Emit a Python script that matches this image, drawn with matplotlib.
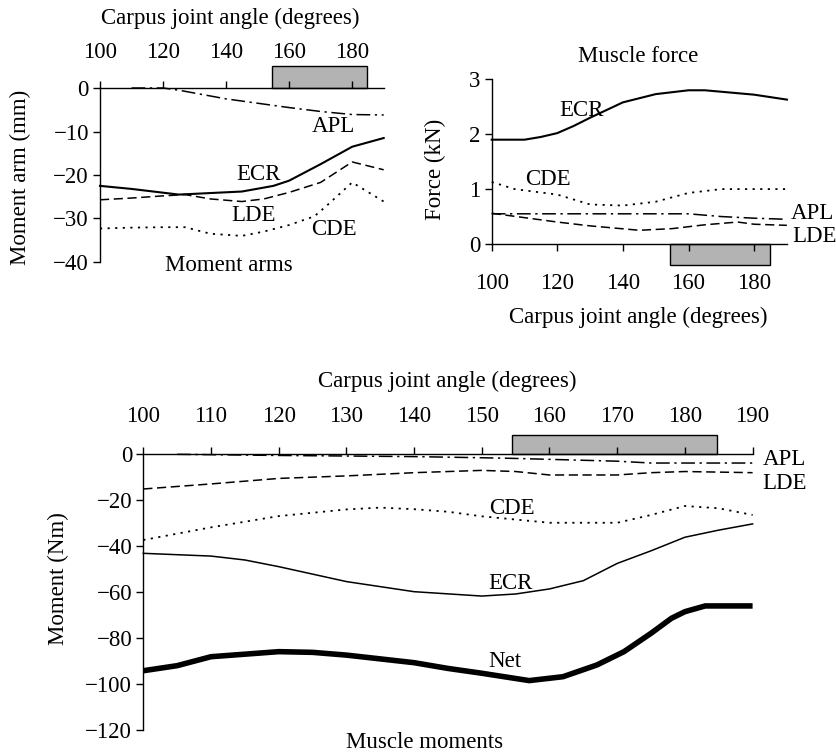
import matplotlib
matplotlib.use("Agg")
import matplotlib.pyplot as plt
from matplotlib.patches import Rectangle

plt.rcParams['font.family'] = ['Liberation Serif', 'DejaVu Serif']
plt.rcParams['axes.unicode_minus'] = True

FS = 16.5

# ---------------- data ----------------
# Moment arms (mm)
ma_apl_x = [110, 120, 125, 140, 150, 160, 170, 180, 190]
ma_apl_y = [0, 0, -0.5, -2.5, -3.5, -4.5, -5.4, -6.1, -6.2]
ma_ecr_x = [100, 110, 125, 145, 155, 160, 170, 180, 190]
ma_ecr_y = [-22.5, -23.2, -24.5, -23.8, -22.5, -21.3, -17.5, -13.5, -11.5]
ma_lde_x = [100, 110, 120, 127, 135, 145, 152, 160, 170, 180, 190]
ma_lde_y = [-25.7, -25.3, -24.8, -24.5, -25.5, -26.1, -25.5, -24, -21.7, -17, -18.8]
ma_cde_x = [100, 110, 120, 127, 135, 145, 152, 160, 168, 172, 180, 190]
ma_cde_y = [-32.3, -32.1, -32, -32, -33.5, -34, -33, -31.5, -29.5, -27, -21.7, -26.1]

# Muscle force (kN)
f_ecr_x = [100, 110, 115, 120, 125, 130, 140, 150, 160, 165, 180, 190]
f_ecr_y = [1.9, 1.9, 1.95, 2.02, 2.15, 2.3, 2.58, 2.73, 2.8, 2.8, 2.72, 2.63]
f_cde_x = [100, 107, 120, 130, 140, 150, 160, 170, 190]
f_cde_y = [1.13, 1.0, 0.9, 0.72, 0.7, 0.77, 0.93, 1.0, 1.0]
f_apl_x = [100, 110, 130, 160, 170, 180, 190]
f_apl_y = [0.55, 0.55, 0.55, 0.55, 0.5, 0.47, 0.45]
f_lde_x = [100, 110, 120, 130, 145, 155, 165, 175, 180, 190]
f_lde_y = [0.56, 0.48, 0.4, 0.33, 0.25, 0.28, 0.35, 0.4, 0.36, 0.34]

# Muscle moments (Nm)
m_apl_x = [105, 120, 140, 150, 155, 160, 170, 175, 180, 190]
m_apl_y = [0, -0.5, -1, -1.5, -1.8, -2.2, -3, -3.8, -3.8, -3.8]
m_lde_x = [100, 110, 120, 130, 140, 150, 155, 160, 170, 175, 180, 190]
m_lde_y = [-15.1, -12.9, -10.5, -9.4, -8, -7, -7.5, -9, -9, -8, -7.5, -8]
m_cde_x = [100, 110, 120, 130, 135, 140, 145, 150, 160, 170, 175, 180, 185, 190]
m_cde_y = [-37.3, -31.8, -26.9, -24, -23.2, -23.9, -25, -27, -29.8, -29.8, -26.4, -22.5, -23.5, -26.4]
m_ecr_x = [100, 110, 115, 120, 130, 140, 150, 155, 160, 165, 170, 175, 180, 185, 190]
m_ecr_y = [-43.1, -44.3, -46, -48.9, -55.4, -59.8, -61.7, -60.8, -58.6, -55, -47.5, -42, -36.1, -33, -30.3]
m_net_x = [100, 105, 110, 115, 120, 125, 130, 140, 145, 150, 157, 162, 167, 171, 175, 178, 180, 183, 190]
m_net_y = [-94.2, -92, -88.1, -87, -85.9, -86.2, -87.4, -90.7, -93.2, -95.3, -98.5, -96.8, -91.7, -85.9, -77.9, -71.4, -68.5, -66, -66]

# stance (shaded) range of joint angle
box_x = [154.5, 184.7]

x_ticks_top = [100, 120, 140, 160, 180]
x_ticks_bot = [100, 110, 120, 130, 140, 150, 160, 170, 180, 190]

W, H = 837, 756
fig = plt.figure(figsize=(W / 100, H / 100), dpi=100)

def ax_px(left, top, right, bottom):
    return fig.add_axes([left / W, 1 - bottom / H, (right - left) / W, (bottom - top) / H])

APL_LS = (0, (9, 3, 1.5, 3))
LDE_LS = (0, (6, 3))
CDE_LS = (0, (1.2, 3))

def style_common(ax):
    ax.tick_params(labelsize=FS, length=5, width=1, color='black')
    for s in ax.spines.values():
        s.set_linewidth(1)

# ---------------- top-left: moment arms ----------------
ax1 = ax_px(100, 88, 383.7, 262)
ax1.set_xlim(100, 190)
ax1.set_ylim(-40, 0)
ax1.spines['right'].set_visible(False)
ax1.spines['bottom'].set_visible(False)
ax1.xaxis.set_ticks_position('top')
ax1.set_xticks(x_ticks_top)
ax1.set_yticks([0, -10, -20, -30, -40])
style_common(ax1)
ax1.tick_params(axis='x', pad=13)
ax1.tick_params(axis='y', pad=3)
ax1.add_patch(Rectangle((box_x[0], 0), box_x[1] - box_x[0], 5, facecolor='#b3b3b3',
                        edgecolor='black', lw=1, clip_on=False, zorder=0.5))
ax1.plot(ma_apl_x, ma_apl_y, color='black', lw=1.1, ls=APL_LS, clip_on=False)
ax1.plot(ma_ecr_x, ma_ecr_y, color='black', lw=1.5, clip_on=False)
ax1.plot(ma_lde_x, ma_lde_y, color='black', lw=1.1, ls=LDE_LS, clip_on=False)
ax1.plot(ma_cde_x, ma_cde_y, color='black', lw=1.3, ls=CDE_LS, clip_on=False)
ax1.text(174, -8.9, 'APL', fontsize=FS, ha='center', va='center')
ax1.text(150.4, -20, 'ECR', fontsize=FS, ha='center', va='center')
ax1.text(148.8, -29.4, 'LDE', fontsize=FS, ha='center', va='center')
ax1.text(174.3, -32.6, 'CDE', fontsize=FS, ha='center', va='center')
ax1.text(141, -40.8, 'Moment arms', fontsize=FS, ha='center', va='center', clip_on=False)
fig.text(230 / W, 1 - 18 / H, 'Carpus joint angle (degrees)', fontsize=FS, ha='center', va='center')
fig.text(20 / W, 1 - 177 / H, 'Moment arm (mm)', fontsize=FS, ha='center', va='center', rotation=90)

# ---------------- top-right: muscle force ----------------
ax2 = ax_px(491.7, 79.3, 786.9, 244)
ax2.set_xlim(100, 190)
ax2.set_ylim(0, 3)
ax2.spines['right'].set_visible(False)
ax2.spines['top'].set_visible(False)
ax2.set_xticks(x_ticks_top)
ax2.set_yticks([0, 1, 2, 3])
style_common(ax2)
ax2.tick_params(axis='x', pad=16)
ax2.tick_params(axis='y', pad=3)
ax2.add_patch(Rectangle((box_x[0], -0.38), box_x[1] - box_x[0], 0.38, facecolor='#b3b3b3',
                        edgecolor='black', lw=1, clip_on=False, zorder=0.5))
ax2.plot(f_ecr_x, f_ecr_y, color='black', lw=1.5, clip_on=False)
ax2.plot(f_cde_x, f_cde_y, color='black', lw=1.3, ls=CDE_LS, clip_on=False)
ax2.plot(f_apl_x, f_apl_y, color='black', lw=1.1, ls=APL_LS, clip_on=False)
ax2.plot(f_lde_x, f_lde_y, color='black', lw=1.1, ls=LDE_LS, clip_on=False)
ax2.text(127.5, 2.44, 'ECR', fontsize=FS, ha='center', va='center')
ax2.text(117, 1.18, 'CDE', fontsize=FS, ha='center', va='center')
ax2.text(191.3, 0.56, 'APL', fontsize=FS, ha='left', va='center', clip_on=False)
ax2.text(191.6, 0.13, 'LDE', fontsize=FS, ha='left', va='center', clip_on=False)
fig.text(638 / W, 1 - 57 / H, 'Muscle force', fontsize=FS, ha='center', va='center')
fig.text(638 / W, 1 - 317 / H, 'Carpus joint angle (degrees)', fontsize=FS, ha='center', va='center')
fig.text(435 / W, 1 - 169 / H, 'Force (kN)', fontsize=FS, ha='center', va='center', rotation=90)

# ---------------- bottom: muscle moments ----------------
ax3 = ax_px(143.3, 454.3, 752.6, 730)
ax3.set_xlim(100, 190)
ax3.set_ylim(-120, 0)
ax3.spines['right'].set_visible(False)
ax3.spines['bottom'].set_visible(False)
ax3.xaxis.set_ticks_position('top')
ax3.set_xticks(x_ticks_bot)
ax3.set_yticks([0, -20, -40, -60, -80, -100, -120])
style_common(ax3)
ax3.tick_params(axis='x', pad=15)
ax3.tick_params(axis='y', pad=3)
ax3.add_patch(Rectangle((box_x[0], 0), box_x[1] - box_x[0], 8.3, facecolor='#b3b3b3',
                        edgecolor='black', lw=1, clip_on=False, zorder=0.5))
ax3.plot(m_apl_x, m_apl_y, color='black', lw=1.1, ls=APL_LS, clip_on=False)
ax3.plot(m_lde_x, m_lde_y, color='black', lw=1.1, ls=LDE_LS, clip_on=False)
ax3.plot(m_cde_x, m_cde_y, color='black', lw=1.3, ls=CDE_LS, clip_on=False)
ax3.plot(m_ecr_x, m_ecr_y, color='black', lw=1.1, clip_on=False)
ax3.plot(m_net_x, m_net_y, color='black', lw=4, clip_on=False, solid_capstyle='butt',
         solid_joinstyle='round')
ax3.text(191.5, -2.2, 'APL', fontsize=FS, ha='left', va='center', clip_on=False)
ax3.text(191.5, -12.6, 'LDE', fontsize=FS, ha='left', va='center', clip_on=False)
ax3.text(154.4, -23.5, 'CDE', fontsize=FS, ha='center', va='center')
ax3.text(154.2, -56.4, 'ECR', fontsize=FS, ha='center', va='center')
ax3.text(153.4, -90.4, 'Net', fontsize=FS, ha='center', va='center')
fig.text(425 / W, 1 - 743 / H, 'Muscle moments', fontsize=FS, ha='center', va='center')
fig.text(447 / W, 1 - 381 / H, 'Carpus joint angle (degrees)', fontsize=FS, ha='center', va='center')
fig.text(58 / W, 1 - 579 / H, 'Moment (Nm)', fontsize=FS, ha='center', va='center', rotation=90)

fig.savefig('out.png', dpi=100)
